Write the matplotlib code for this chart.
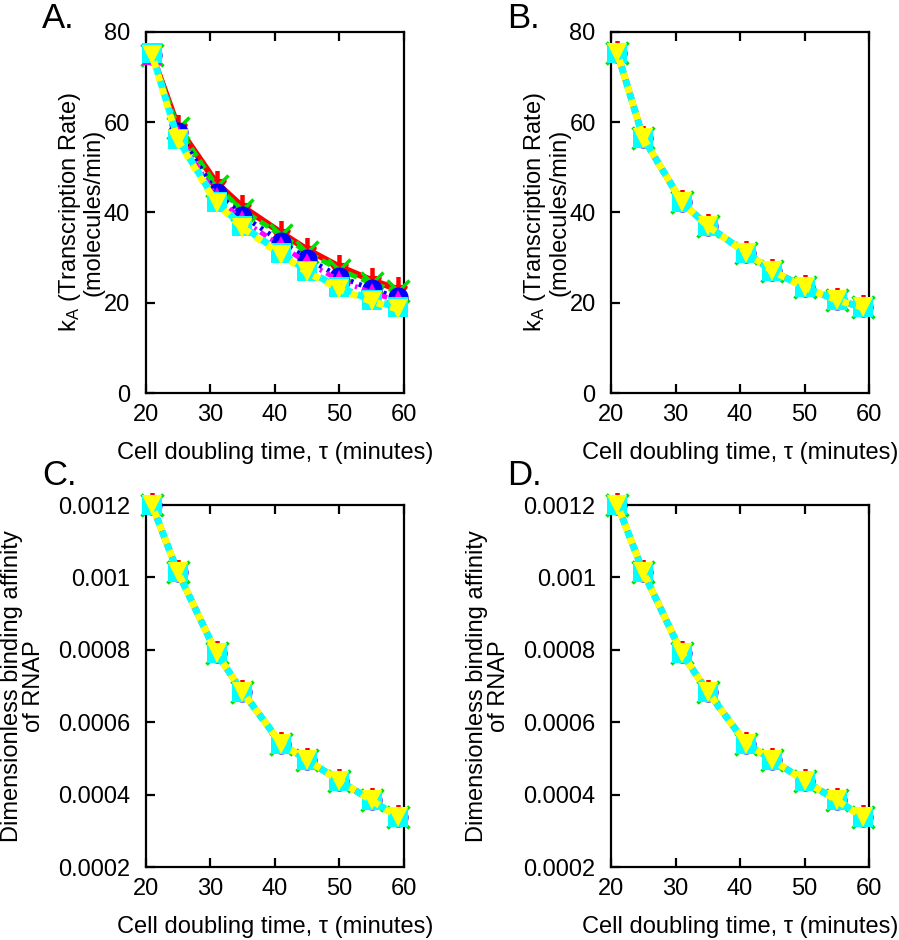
import matplotlib
matplotlib.use("Agg")
import matplotlib.pyplot as plt
from matplotlib.path import Path
import numpy as np

plt.rcParams['font.family'] = ['Liberation Sans', 'DejaVu Sans']
plt.rcParams['mathtext.default'] = 'regular'

# ---------------- data ----------------
tau = [21, 25, 31, 35, 41, 45, 50, 55, 59]

# Panel A: six model variants
kA_red = [75, 59, 46.5, 41.3, 35.5, 31.8, 28, 25, 23]
kA_green = [75, 58.8, 45.8, 40.5, 35, 31.2, 27.3, 24.3, 22.5]
kA_blue = [75, 57.8, 44.3, 39.3, 33.5, 29.8, 25.8, 23, 21.2]
kA_magenta = [75, 57.2, 43.4, 38.3, 32.6, 28.9, 25, 22.2, 20.5]
kA_cyan = [75.3, 56.3, 42.3, 37, 31, 27.1, 23.4, 20.6, 19.0]
kA_yellow = [75.0, 56.0, 42.0, 36.6, 30.6, 26.8, 23.0, 20.3, 18.6]

# Panel B: all variants coincide
kA_B = [75.3, 56.5, 42.3, 37, 31, 27.1, 23.4, 20.6, 19.0]

# Panels C and D: dimensionless binding affinity of RNAP
kRNAP_C = [0.00120, 0.001015, 0.00079, 0.000684, 0.00054, 0.000496, 0.000438, 0.000384, 0.000339]
kRNAP_D = [0.00120, 0.001015, 0.00079, 0.000684, 0.00054, 0.000496, 0.000438, 0.000384, 0.000339]

xticks = [20, 30, 40, 50, 60]
yticks_A = [0, 20, 40, 60, 80]
yticks_C = [0.0002, 0.0004, 0.0006, 0.0008, 0.001, 0.0012]
yticklabels_C = ['0.0002', '0.0004', '0.0006', '0.0008', '0.001', '0.0012']

# ---------------- styles ----------------
arrow = Path(
    [(0, 0.8), (0, 0.1), (-0.45, 0.15), (0.45, 0.15), (0, -0.45), (-0.45, 0.15)],
    [Path.MOVETO, Path.LINETO, Path.MOVETO, Path.LINETO, Path.LINETO, Path.CLOSEPOLY])

styles = [
    dict(color='#ff0000', ls='-', lw=4.5, marker=arrow, ms=18, mew=3.2),
    dict(color='#00e000', ls=(0, (2, 1)), lw=3.5, marker='x', ms=15.5, mew=2.5),
    dict(color='#0000ff', ls=(0, (0.6, 1.2)), lw=3.5, marker='o', ms=14.5, mew=0),
    dict(color='#ff00ff', ls=(0, (1.5, 1, 0.5, 1)), lw=3.5, marker='^', ms=14, mew=0),
    dict(color='#00ffff', ls=(0, (1.2, 0.8)), lw=5, marker='s', ms=15, mew=0),
    dict(color='#ffff00', ls=(1.0, (1.0, 1.0)), lw=5, marker='v', ms=15, mew=0),
]

W, H = 899, 940
fig = plt.figure(figsize=(W / 100, H / 100), dpi=100)

def axrect(l, r, t, b):
    return [l / W, 1 - b / H, (r - l) / W, (b - t) / H]

axA = fig.add_axes(axrect(145.5, 404, 32, 393))
axB = fig.add_axes(axrect(611, 869, 32, 393))
axC = fig.add_axes(axrect(145.5, 404, 505, 867))
axD = fig.add_axes(axrect(611, 869, 505, 867))

def plot_series(ax, series):
    for ys, st in zip(series, styles):
        ax.plot(tau, ys, color=st['color'], linestyle=st['ls'], linewidth=st['lw'],
                marker=st['marker'], markersize=st['ms'], markeredgewidth=st['mew'],
                markerfacecolor=st['color'], markeredgecolor=st['color'],
                clip_on=False, solid_capstyle='butt', dash_capstyle='butt')

plot_series(axA, [kA_red, kA_green, kA_blue, kA_magenta, kA_cyan, kA_yellow])
plot_series(axB, [kA_B] * 6)
plot_series(axC, [kRNAP_C] * 6)
plot_series(axD, [kRNAP_D] * 6)

FS = 17
for ax in (axA, axB, axC, axD):
    ax.set_xlim(20, 60)
    ax.set_xticks(xticks)
    ax.set_xticklabels([str(v) for v in xticks], fontsize=FS)
    for s in ax.spines.values():
        s.set_linewidth(1.6)
        s.set_zorder(0.5)
    ax.tick_params(axis='x', direction='in', length=6.5, width=1.6, top=True, pad=8)
    ax.tick_params(axis='y', direction='in', length=6.5, width=1.6, right=False, pad=11,
                   labelsize=FS)
    ax.set_xlabel('Cell doubling time, τ (minutes)', fontsize=FS)
    ax.xaxis.set_label_coords(0.5, -0.135)

for ax in (axA, axB):
    ax.set_ylim(0, 80)
    ax.set_yticks(yticks_A)
    ax.set_yticklabels([str(v) for v in yticks_A])
    ax.text(-0.25, 0.5, 'k$_A$ (Transcription Rate)\n(molecules/min)', transform=ax.transAxes,
            rotation=90, ha='center', va='center', fontsize=FS, linespacing=1.0,
            multialignment='center')

for ax in (axC, axD):
    ax.set_ylim(0.0002, 0.0012)
    ax.set_yticks(yticks_C)
    ax.set_yticklabels(yticklabels_C)
    ax.text(-0.475, 0.5, 'Dimensionless binding affinity\nof RNAP', transform=ax.transAxes,
            rotation=90, ha='center', va='center', fontsize=FS, linespacing=1.0,
            multialignment='center')

for lab, x, y in (('A.', 42, 28), ('B.', 507, 28), ('C.', 42, 485), ('D.', 507, 485)):
    fig.text(x / W, 1 - y / H, lab, fontsize=25, ha='left', va='baseline')

fig.savefig('out.png', dpi=100)
